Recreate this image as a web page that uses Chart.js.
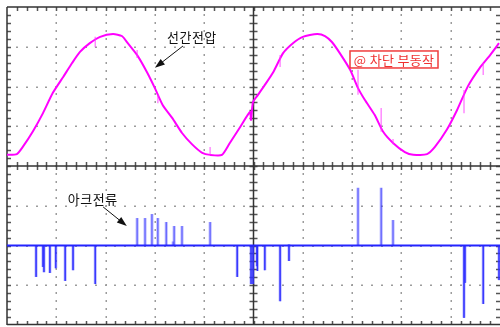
<!DOCTYPE html>
<html>
<head>
<meta charset="utf-8">
<script src="https://cdn.jsdelivr.net/npm/chart.js@4.4.0/dist/chart.umd.min.js"></script>
<style>
  html, body { margin: 0; padding: 0; background: #fff; }
  canvas { display: block; }
</style>
</head>
<body>
<canvas id="scope" width="500" height="327"></canvas>
<script>
// Screen is 10 x 8 divisions; values below are in divisions
const X_DIVS = 10;
const Y_DIVS = 8;

// Line voltage trace (top half)
const voltX = [0, 0.20, 0.32, 0.53, 0.73, 0.93, 1.14, 1.32, 1.48, 1.68, 1.89, 2.15, 2.33, 2.45, 2.64, 2.84,
  3.00, 3.16, 3.35, 3.55, 3.75, 3.96, 4.12, 4.36, 4.52, 4.73, 4.93,
  4.95, 4.99, 5.09, 5.23, 5.40, 5.60, 5.80, 6.00, 6.29, 6.45, 6.59, 6.75, 6.96, 7.12, 7.26, 7.46,
  7.63, 7.83, 8.07, 8.24, 8.52, 8.68, 8.92, 9.13, 9.35, 9.59, 9.80, 9.98];
const voltY = [4.28, 4.30, 4.48, 4.88, 5.33, 5.84, 6.24, 6.59, 6.87, 7.09, 7.25, 7.32, 7.27, 7.09, 6.79, 6.36,
  5.96, 5.53, 5.21, 4.83, 4.55, 4.33, 4.28, 4.28, 4.58, 4.98, 5.36,
  5.16, 5.61, 5.79, 6.04, 6.36, 6.84, 7.09, 7.25, 7.32, 7.27, 7.12, 6.84, 6.42, 5.96, 5.66, 5.28,
  4.86, 4.58, 4.35, 4.28, 4.30, 4.48, 4.91, 5.41, 6.01, 6.47, 6.79, 7.09];

// Glitches on the voltage trace: [x, from, to]
const voltGlitches = [[1.79, 7.25, 6.99], [2.64, 6.92, 6.72], [3.06, 5.79, 5.58], [4.12, 4.48, 4.28],
  [5.54, 6.79, 6.49], [7.12, 6.42, 5.79], [7.59, 5.46, 4.86], [7.83, 4.68, 4.55],
  [9.27, 5.91, 5.33], [9.66, 6.59, 6.29]];

// Arc current trace (bottom half)
const currentBase = 2.0;
const arcSpikes = [[0.59, 1.21], [0.73, 1.46], [0.75, 1.33], [0.87, 1.31], [0.99, 1.43], [1.18, 1.11],
  [1.34, 1.38], [1.79, 1.03], [4.67, 1.21],
  [2.64, 2.69], [2.80, 2.69], [2.94, 2.79], [3.06, 2.69], [3.23, 2.59], [3.39, 2.49], [3.55, 2.49],
  [3.37, 2.10], [4.12, 2.59],
  [4.95, 1.03], [4.99, 1.03], [5.07, 1.48], [5.08, 1.36], [5.23, 1.38], [5.54, 0.60], [5.72, 1.61],
  [5.72, 2.03], [9.27, 0.18], [9.29, 1.06], [9.66, 0.53], [9.98, 1.13],
  [7.12, 3.45], [7.59, 3.45], [7.83, 2.64]];

// Labels: [text, x, y]
const voltLabel = ['선간전압', 3.75, 7.25];
const voltArrow = [3.57, 7.02, 3.00, 6.47];
const arcLabel = ['아크전류', 1.74, 3.17];
const arcArrow = [1.95, 2.97, 2.43, 2.49];
const tripLabel = ['@ 차단 부동작', 7.85, 6.68];

function segments(list, base) {
  const pts = [];
  list.forEach(s => {
    const from = base === undefined ? s[1] : base;
    const to = base === undefined ? s[2] : s[1];
    pts.push({ x: s[0], y: from }, { x: s[0], y: to }, { x: s[0], y: null });
  });
  return pts;
}

const scopeGrid = {
  id: 'scopeGrid',
  beforeDatasetsDraw(chart) {
    const { ctx, chartArea: a, scales: { x, y } } = chart;
    const cx = x.getPixelForValue(X_DIVS / 2);
    const cy = y.getPixelForValue(Y_DIVS / 2);
    ctx.save();

    // dotted graticule
    ctx.fillStyle = '#9c9c9c';
    for (let gx = 1; gx < X_DIVS; gx++) {
      if (gx === X_DIVS / 2) continue;
      const px = Math.round(x.getPixelForValue(gx));
      for (let m = 1; m < Y_DIVS * 5; m++) {
        ctx.fillRect(px - 0.5, Math.round(y.getPixelForValue(m / 5)) - 1, 1.5, 2);
      }
    }
    for (let gy = 1; gy < Y_DIVS; gy++) {
      if (gy === Y_DIVS / 2) continue;
      const py = Math.round(y.getPixelForValue(gy));
      for (let m = 1; m < X_DIVS * 5; m++) {
        ctx.fillRect(Math.round(x.getPixelForValue(m / 5)) - 1, py - 0.5, 2, 1.5);
      }
    }

    // minor ticks
    ctx.strokeStyle = '#555';
    ctx.lineWidth = 1.5;
    ctx.beginPath();
    for (let m = 1; m < X_DIVS * 5; m++) {
      const px = Math.round(x.getPixelForValue(m / 5)) + 0.5;
      ctx.moveTo(px, a.top); ctx.lineTo(px, a.top + 4);
      ctx.moveTo(px, a.bottom); ctx.lineTo(px, a.bottom - 4);
      ctx.moveTo(px, cy - 4); ctx.lineTo(px, cy + 4);
    }
    for (let m = 1; m < Y_DIVS * 5; m++) {
      const py = Math.round(y.getPixelForValue(m / 5)) + 0.5;
      ctx.moveTo(a.left, py); ctx.lineTo(a.left + 4, py);
      ctx.moveTo(a.right, py); ctx.lineTo(a.right - 4, py);
      ctx.moveTo(cx - 4, py); ctx.lineTo(cx + 4, py);
    }
    ctx.stroke();

    // frame and centre axes
    ctx.strokeStyle = '#333';
    ctx.lineWidth = 1.5;
    ctx.beginPath();
    ctx.moveTo(a.left, a.top); ctx.lineTo(a.right, a.top);
    ctx.moveTo(a.left, a.top); ctx.lineTo(a.left, a.bottom);
    ctx.moveTo(a.left, a.bottom - 0.5); ctx.lineTo(a.right, a.bottom - 0.5);
    ctx.moveTo(a.left, cy); ctx.lineTo(a.right, cy);
    ctx.moveTo(cx, a.top); ctx.lineTo(cx, a.bottom);
    ctx.stroke();
    ctx.restore();
  }
};

function arrow(ctx, x1, y1, x2, y2) {
  const ang = Math.atan2(y2 - y1, x2 - x1);
  ctx.beginPath();
  ctx.moveTo(x1, y1);
  ctx.lineTo(x2 - 6 * Math.cos(ang), y2 - 6 * Math.sin(ang));
  ctx.stroke();
  ctx.beginPath();
  ctx.moveTo(x2, y2);
  ctx.lineTo(x2 - 10 * Math.cos(ang) + 3.5 * Math.sin(ang), y2 - 10 * Math.sin(ang) - 3.5 * Math.cos(ang));
  ctx.lineTo(x2 - 10 * Math.cos(ang) - 3.5 * Math.sin(ang), y2 - 10 * Math.sin(ang) + 3.5 * Math.cos(ang));
  ctx.closePath();
  ctx.fill();
}

const scopeLabels = {
  id: 'scopeLabels',
  afterDatasetsDraw(chart) {
    const { ctx, scales: { x, y } } = chart;
    ctx.save();
    ctx.font = '13px "Noto Sans CJK KR", sans-serif';
    ctx.textAlign = 'center';
    ctx.textBaseline = 'middle';
    ctx.fillStyle = '#111';
    ctx.strokeStyle = '#111';
    ctx.lineWidth = 1;
    ctx.letterSpacing = '0.5px';

    [[voltLabel, voltArrow], [arcLabel, arcArrow]].forEach(([lbl, arr]) => {
      ctx.fillText(lbl[0], x.getPixelForValue(lbl[1]), y.getPixelForValue(lbl[2]));
      arrow(ctx, x.getPixelForValue(arr[0]), y.getPixelForValue(arr[1]),
        x.getPixelForValue(arr[2]), y.getPixelForValue(arr[3]));
    });

    // trip failure note
    const tx = x.getPixelForValue(tripLabel[1]);
    const ty = y.getPixelForValue(tripLabel[2]);
    const w = 88, h = 17;
    ctx.fillStyle = '#fff';
    ctx.fillRect(tx - w / 2, ty - h / 2, w, h);
    ctx.strokeStyle = '#f03c3c';
    ctx.lineWidth = 1.5;
    ctx.strokeRect(tx - w / 2, ty - h / 2, w, h);
    ctx.fillStyle = '#f03030';
    ctx.font = '13px "Noto Sans CJK KR", sans-serif';
    ctx.letterSpacing = '0.3px';
    ctx.fillText(tripLabel[0], tx, ty + 0.5);
    ctx.restore();
  }
};

const ctx = document.getElementById('scope').getContext('2d');

const config = {
  type: 'line',
  data: {
    datasets: [
      {
        label: 'arc current base',
        data: [{ x: 0, y: currentBase }, { x: X_DIVS, y: currentBase }],
        borderColor: '#2424ff',
        borderWidth: 2.2,
        pointRadius: 0
      },
      {
        label: 'arc current',
        data: segments(arcSpikes, currentBase),
        borderColor: 'rgba(70, 70, 255, 0.4)',
        borderWidth: 3,
        pointRadius: 0,
        spanGaps: false
      },
      {
        label: 'arc current core',
        data: segments(arcSpikes, currentBase),
        borderColor: 'rgba(30, 30, 255, 0.75)',
        borderWidth: 1,
        pointRadius: 0,
        spanGaps: false
      },
      {
        label: 'voltage glitches',
        data: segments(voltGlitches),
        borderColor: 'rgba(255, 60, 255, 0.6)',
        borderWidth: 1.5,
        pointRadius: 0,
        spanGaps: false
      },
      {
        label: 'line voltage',
        data: voltX.map((v, i) => ({ x: v, y: voltY[i] })),
        borderColor: '#ff00ff',
        borderWidth: 2,
        pointRadius: 0,
        tension: 0.2
      }
    ]
  },
  options: {
    responsive: false,
    devicePixelRatio: 1,
    animation: false,
    layout: { padding: { left: 7, top: 7, right: 0, bottom: 2 } },
    scales: {
      x: { type: 'linear', min: 0, max: X_DIVS, display: false },
      y: { type: 'linear', min: 0, max: Y_DIVS, display: false }
    },
    plugins: {
      legend: { display: false },
      tooltip: { enabled: false }
    }
  },
  plugins: [scopeGrid, scopeLabels]
};

const scopeChart = new Chart(ctx, config);
</script>
</body>
</html>
